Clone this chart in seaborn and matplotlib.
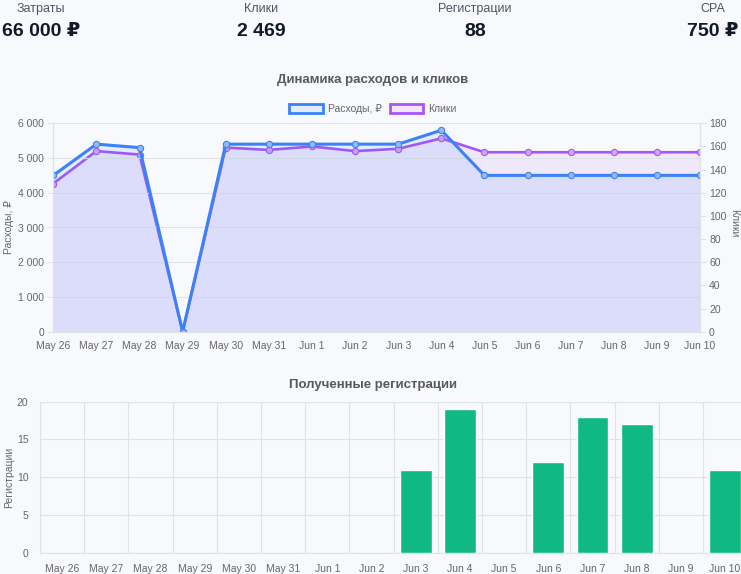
import numpy as np
import matplotlib
matplotlib.use('Agg')
import matplotlib.pyplot as plt
from matplotlib.patches import Patch
from matplotlib.ticker import MultipleLocator, FuncFormatter
import seaborn as sns

# data
days = ['May 26', 'May 27', 'May 28', 'May 29', 'May 30', 'May 31', 'Jun 1', 'Jun 2',
        'Jun 3', 'Jun 4', 'Jun 5', 'Jun 6', 'Jun 7', 'Jun 8', 'Jun 9', 'Jun 10']
spend = [4500, 5400, 5300, 0, 5400, 5400, 5400, 5400, 5400, 5800, 4500, 4500, 4500, 4500, 4500, 4500]
clicks = [128, 156, 153, 0, 159, 157, 160, 156, 158, 167, 155, 155, 155, 155, 155, 155]
regs = [0, 0, 0, 0, 0, 0, 0, 0, 11, 19, 0, 12, 18, 17, 0, 11]
kpi_names = ['Затраты', 'Клики', 'Регистрации', 'CPA']
kpi_values = ['66 000 ₽', '2 469', '88', '750 ₽']

BG = '#f8f9fc'
BLUE = '#3b82f6'
PURPLE = '#a855f7'
GREEN = '#10b981'
GRID = '#e1e2e6'
TICK = '#666666'

sns.set_theme(style='white')
plt.rcParams['font.family'] = ['Liberation Sans', 'DejaVu Sans']

W, H = 741, 574
fig = plt.figure(figsize=(W / 100, H / 100), dpi=100, facecolor=BG)


def box(l, t, r, b):
    return [l / W, 1 - b / H, (r - l) / W, (b - t) / H]


# KPI row
kpi_x = [41, 261, 475, 713]
for name, val, xc in zip(kpi_names, kpi_values, kpi_x):
    fig.text(xc / W, 1 - 9 / H, name, ha='center', va='center', fontsize=9, color='#4b5563')
    fig.text(xc / W, 1 - 31 / H, val, ha='center', va='center', fontsize=14,
             fontweight='bold', color='#111827')

x = np.arange(len(days))


def style_axis(a):
    a.set_facecolor(BG)
    a.tick_params(axis='both', length=4.3, width=0.8, color=GRID, labelcolor=TICK,
                  labelsize=7.5, pad=2.2)
    for s in a.spines.values():
        s.set_color(GRID)
        s.set_linewidth(0.8)


# line chart: spend and clicks
L1, R1 = 53.3, 700
ax2 = fig.add_axes(box(L1, 123.3, R1, 331.7))
ax = ax2.twinx()
ax.set_zorder(2)
ax2.set_zorder(1)
ax.patch.set_visible(False)
style_axis(ax2)
style_axis(ax)

ax2.fill_between(x, clicks, color=PURPLE, alpha=0.1, linewidth=0)
sns.lineplot(x=x, y=clicks, ax=ax2, color=PURPLE, linewidth=1.9, marker='o',
             markersize=4.5, markerfacecolor='#cfa6f8', markeredgecolor=PURPLE,
             markeredgewidth=0.8)
ax.fill_between(x, spend, color=BLUE, alpha=0.1, linewidth=0)
sns.lineplot(x=x, y=spend, ax=ax, color=BLUE, linewidth=2.2, marker='o',
             markersize=4.5, markerfacecolor='#93b9f8', markeredgecolor=BLUE,
             markeredgewidth=0.8)

# ax is the visual left axis (spend), ax2 the right one (clicks)
ax.yaxis.tick_left()
ax.yaxis.set_label_position('left')
ax2.yaxis.tick_right()
ax2.yaxis.set_label_position('right')

ax.set_xlim(0, 15)
ax.set_ylim(0, 6000)
ax2.set_ylim(0, 180)
ax.yaxis.set_major_locator(MultipleLocator(1000))
ax.yaxis.set_major_formatter(FuncFormatter(lambda v, p: f'{v:,.0f}'.replace(',', ' ')))
ax2.yaxis.set_major_locator(MultipleLocator(20))
ax2.set_xticks(x)
ax2.set_xticklabels(days)
ax.set_xticks(x)
ax.tick_params(axis='x', labelbottom=False, length=0)
ax.grid(True, color=GRID, linewidth=0.8)
ax.spines['top'].set_visible(False)
ax2.spines['top'].set_visible(False)
ax.set_ylabel('Расходы, ₽', fontsize=7.5, color=TICK)
ax.yaxis.set_label_coords((14 - L1) / (R1 - L1), 0.5)
ax2.set_ylabel('Клики', fontsize=7.5, color=TICK, rotation=-90, va='center')
ax2.yaxis.set_label_coords((734 - L1) / (R1 - L1), 0.52)

fig.text(373 / W, 1 - 80 / H, 'Динамика расходов и кликов', ha='center', va='center',
         fontsize=9.5, fontweight='bold', color='#595959')
handles = [Patch(facecolor='#e3ecfd', edgecolor=BLUE, linewidth=2, label='Расходы, ₽'),
           Patch(facecolor='#f2e6fd', edgecolor=PURPLE, linewidth=2, label='Клики')]
fig.legend(handles=handles, loc='center', bbox_to_anchor=(373 / W, 1 - 109 / H), ncol=2,
           frameon=False, fontsize=7.5, labelcolor=TICK, handlelength=3.2,
           handleheight=1.0, handletextpad=0.5, columnspacing=0.8)

# bar chart: registrations
L3, R3 = 40, 40 + 16 * 44.2
ax3 = fig.add_axes(box(L3, 401.7, R3, 552.7))
style_axis(ax3)
sns.barplot(x=x, y=regs, ax=ax3, color=GREEN, width=0.72, saturation=1, zorder=3)
ax3.set_xlim(-0.5, 15.5)
ax3.set_ylim(0, 20)
ax3.yaxis.set_major_locator(MultipleLocator(5))
ax3.set_xticks(x)
ax3.set_xticklabels(days)
ax3.tick_params(axis='x', length=0, pad=8)
ax3.tick_params(axis='y', pad=4)
ax3.set_xticks(np.arange(-0.5, 16, 1), minor=True)
ax3.tick_params(axis='x', which='minor', length=4.3, color=GRID)
ax3.grid(True, axis='y', color=GRID, linewidth=0.8)
ax3.grid(True, axis='x', which='minor', color=GRID, linewidth=0.8)
ax3.set_axisbelow(True)
ax3.spines['top'].set_visible(False)
ax3.spines['right'].set_visible(False)
ax3.set_xlabel('')
ax3.set_ylabel('Регистрации', fontsize=7.5, color=TICK)
ax3.yaxis.set_label_coords((14 - L3) / (R3 - L3), 0.5)

fig.text(373 / W, 1 - 385 / H, 'Полученные регистрации', ha='center', va='center',
         fontsize=9.5, fontweight='bold', color='#595959')

fig.savefig('out.png', dpi=100, facecolor=BG)
